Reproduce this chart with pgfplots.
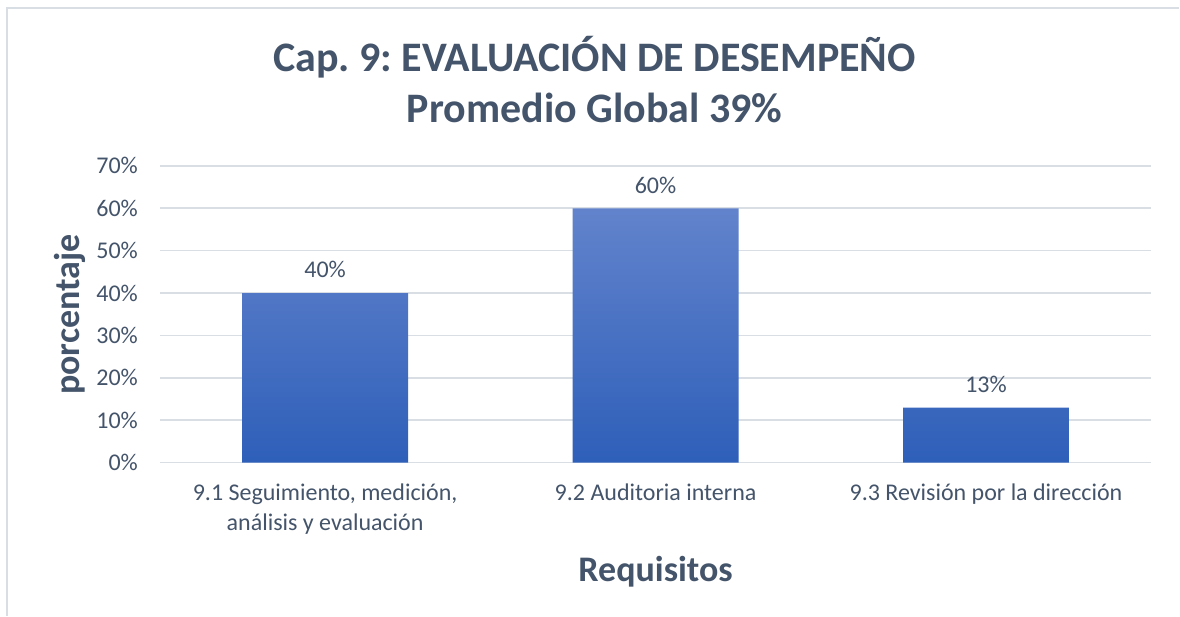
\documentclass[border=0pt]{standalone}
\usepackage{pgfplots}
\pgfplotsset{compat=1.18}
\usepackage{fontspec}
\setmainfont{Carlito}
\frenchspacing
\definecolor{txt}{RGB}{68,84,106}
\definecolor{gridc}{RGB}{217,222,228}
\definecolor{bartop}{RGB}{98,131,204}
\definecolor{barbot}{RGB}{46,95,185}
\begin{document}
\begin{tikzpicture}
\path[fill=white] (0pt,0pt) rectangle (590pt,308pt);
\draw[gridc,line width=0.8pt] (3.5pt,0pt) -- (3.5pt,304pt) -- (590pt,304pt);
\begin{axis}[
  at={(80pt,76.5pt)}, anchor=south west,
  scale only axis, width=496pt, height=148.5pt,
  ymin=0, ymax=70, xmin=-0.5, xmax=2.5,
  ytick={0,10,20,30,40,50,60,70},
  yticklabels={0\%,10\%,20\%,30\%,40\%,50\%,60\%,70\%},
  xtick={0,1,2},
  xticklabels={{9.1 Seguimiento, medición,\\análisis y evaluación},{9.2 Auditoria interna},{9.3 Revisión por la dirección}},
  xticklabel style={align=center, font=\fontsize{12}{15}\selectfont, text=txt, yshift=-7pt},
  yticklabel style={font=\fontsize{12}{14}\selectfont, text=txt, xshift=-7.5pt},
  ymajorgrids, xmajorgrids=false, major grid style={draw=gridc, line width=0.8pt},
  axis line style={draw=none},
  major tick length=0pt,
  /pgf/number format/assume math mode=true,
  nodes near coords={\pgfmathprintnumber{\pgfplotspointmeta}\%},
  nodes near coords style={font=\fontsize{12}{14}\selectfont, text=txt, yshift=4pt},
  clip=false,
]
\addplot[ybar, bar width=83pt, draw=none, top color=bartop, bottom color=barbot] coordinates {(0,40) (1,60) (2,13)};
\end{axis}
\node[text=txt, font=\fontsize{21}{25}\selectfont\bfseries] at (297.5pt,279.5pt) {Cap. 9: EVALUACIÓN DE DESEMPEÑO};
\node[text=txt, font=\fontsize{21}{25}\selectfont\bfseries] at (297.5pt,254pt) {Promedio Global 39\%};
\node[text=txt, font=\fontsize{18}{22}\selectfont\bfseries, rotate=90] at (35pt,150.5pt) {porcentaje};
\node[text=txt, font=\fontsize{18}{22}\selectfont\bfseries] at (328pt,22pt) {Requisitos};
\end{tikzpicture}
\end{document}
